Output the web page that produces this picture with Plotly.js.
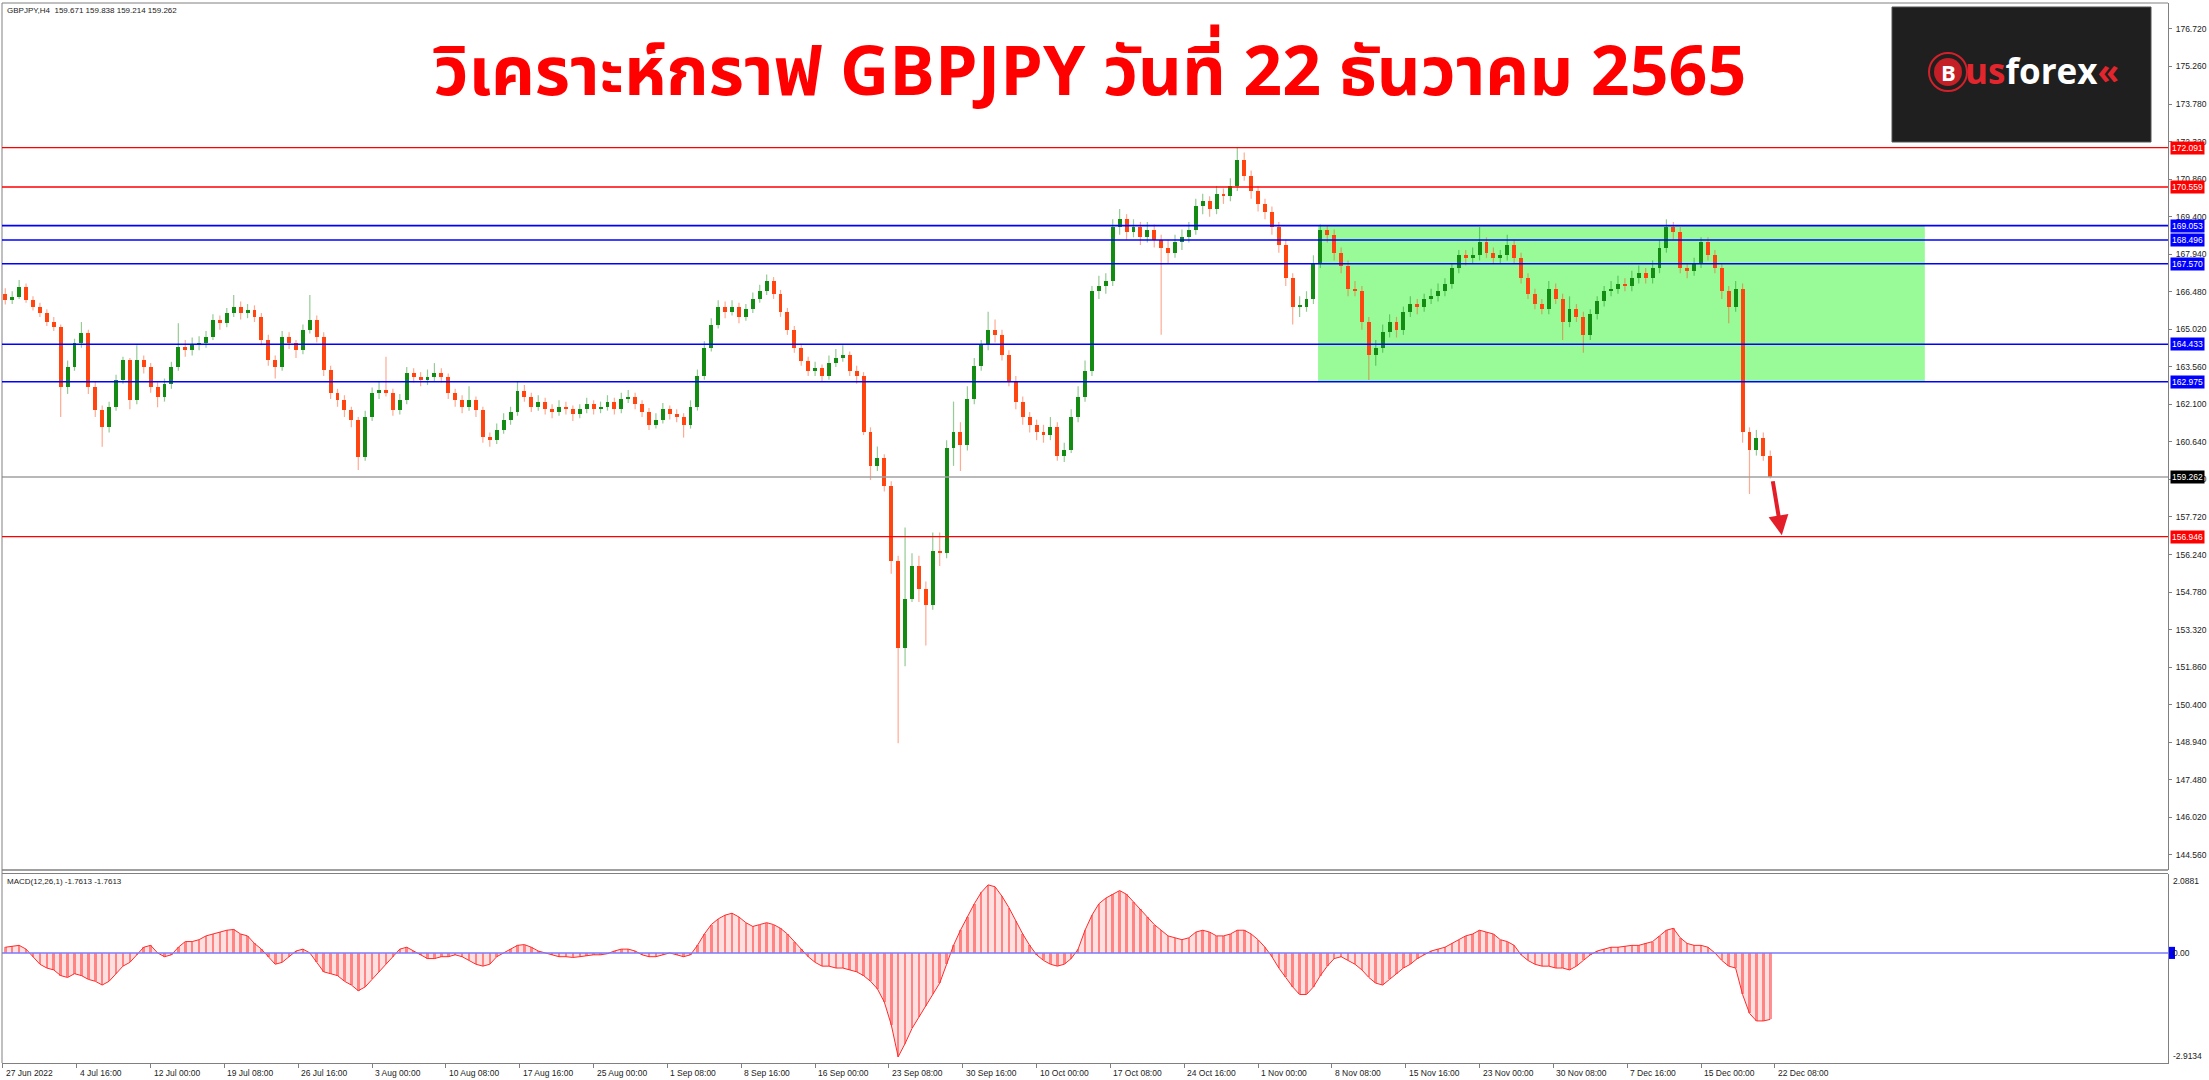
<!DOCTYPE html>
<html><head><meta charset="utf-8">
<script src="https://cdn.plot.ly/plotly-3.0.1.min.js"></script>
<style>html,body{margin:0;padding:0;background:#fff;}#chart{width:2209px;height:1080px;}</style>
</head><body><div id="chart"></div>
<script>
const symbolHeader = "GBPJPY,H4  159.671 159.838 159.214 159.262";
const macdHeader = "MACD(12,26,1) -1.7613 -1.7613";
const titleText = "วิเคราะห์กราฟ GBPJPY วันที่ 22 ธันวาคม 2565";
const dateLabels = ["27 Jun 2022","4 Jul 16:00","12 Jul 00:00","19 Jul 08:00","26 Jul 16:00","3 Aug 00:00","10 Aug 08:00","17 Aug 16:00","25 Aug 00:00","1 Sep 08:00","8 Sep 16:00","16 Sep 00:00","23 Sep 08:00","30 Sep 16:00","10 Oct 00:00","17 Oct 08:00","24 Oct 16:00","1 Nov 00:00","8 Nov 08:00","15 Nov 16:00","23 Nov 00:00","30 Nov 08:00","7 Dec 16:00","15 Dec 00:00","22 Dec 08:00"];
const priceTicks = [176.72,175.26,173.78,172.32,170.86,169.40,167.94,166.48,165.02,163.56,162.10,160.64,159.18,157.72,156.24,154.78,153.32,151.86,150.40,148.94,147.48,146.02,144.56];
const macdTicks = [2.0881, 0, -2.9134];

const open = [166.40,166.16,166.29,166.68,166.16,165.90,165.64,165.31,165.12,162.78,
163.56,164.47,164.86,162.78,161.87,161.22,162.00,163.04,163.82,162.26,
163.82,163.56,162.78,162.39,162.90,163.56,164.34,164.20,164.45,164.47,
164.73,165.38,165.25,165.64,165.90,165.64,165.77,165.51,164.60,163.82,
163.56,164.73,164.47,164.21,164.99,165.38,164.73,163.43,162.52,162.26,
161.87,161.48,160.06,161.61,162.52,162.65,162.52,161.87,162.26,163.30,
163.17,163.04,163.17,163.30,163.17,162.52,162.26,162.00,162.26,161.87,
160.84,160.71,161.10,161.50,161.80,162.60,162.40,162.00,162.20,161.90,
161.80,162.00,161.90,161.70,161.90,162.10,161.90,162.00,162.20,161.90,
162.30,162.40,162.10,161.80,161.30,161.50,161.90,161.70,161.60,161.30,
162.00,163.20,164.30,165.20,165.90,165.70,165.90,165.50,165.80,166.20,
166.50,166.90,166.40,165.70,165.00,164.30,163.80,163.40,163.50,163.20,
163.70,163.90,164.00,163.40,163.20,161.00,159.70,160.00,158.90,156.00,
152.60,154.50,155.80,154.90,154.30,156.40,156.30,160.40,161.00,160.50,
162.30,163.60,164.40,165.00,164.80,164.00,163.00,162.20,161.60,161.30,
161.00,160.90,161.20,160.10,160.30,161.60,162.40,163.40,166.50,166.70,
166.90,169.00,169.30,168.80,169.00,168.60,168.90,168.50,168.20,168.00,
168.40,168.60,168.90,169.80,170.00,169.70,170.30,170.20,170.60,171.60,
171.00,170.40,169.90,169.60,169.00,168.30,167.00,165.90,165.90,166.20,
167.60,168.90,168.70,168.00,167.50,166.60,166.50,165.30,164.00,164.30,
164.90,165.30,165.00,165.70,166.00,165.90,166.20,166.30,166.50,166.80,
167.40,167.90,167.80,167.90,168.40,168.00,167.80,167.90,168.30,167.80,
167.00,166.40,166.00,165.80,166.60,166.20,165.30,165.80,165.50,164.80,
165.60,166.10,166.50,166.60,166.80,166.70,167.00,167.20,167.00,167.40,
168.20,169.00,168.80,167.40,167.30,167.60,168.40,167.90,167.40,166.50,
165.90,166.60,161.00,160.30,160.80,160.10];
const high = [166.62,166.50,166.94,166.80,166.30,166.05,165.80,165.50,165.20,163.80,
164.65,165.30,165.00,163.00,162.05,162.20,163.25,163.95,163.90,164.40,
164.00,163.70,162.95,163.10,163.75,165.25,164.60,164.70,164.75,164.95,
165.60,165.55,165.85,166.35,166.10,166.00,165.95,165.65,164.80,164.00,
164.95,164.90,164.60,165.20,166.35,165.55,164.90,163.60,162.70,162.45,
162.00,161.60,161.85,162.75,163.00,163.95,162.70,162.50,163.55,163.50,
163.35,163.45,163.70,163.50,163.30,162.70,162.45,162.80,162.40,162.00,
161.00,161.35,161.75,162.00,163.00,162.85,162.55,162.45,162.35,162.10,
162.25,162.20,162.05,162.10,162.35,162.25,162.20,162.45,162.35,162.55,
162.65,162.55,162.25,161.95,161.75,162.15,162.05,161.90,161.75,162.25,
163.45,164.55,165.45,166.15,166.10,166.15,166.05,166.00,166.45,166.75,
167.15,167.05,166.55,165.85,165.15,164.45,163.95,163.75,163.65,164.00,
164.25,164.40,164.15,163.60,163.35,161.20,160.45,160.15,159.10,156.20,
157.30,156.30,156.20,155.20,157.10,157.10,160.70,162.20,161.40,162.80,
163.90,164.60,165.70,165.40,165.00,164.20,163.20,162.40,161.80,161.50,
161.30,161.60,161.40,160.60,161.90,162.80,163.80,166.70,167.10,167.20,
169.30,169.70,169.50,169.30,169.20,169.20,169.10,168.70,168.50,168.70,
168.90,169.20,170.10,170.30,170.20,170.60,170.50,170.90,172.10,171.90,
171.20,170.60,170.10,169.80,169.20,168.50,167.20,166.30,166.50,167.90,
169.10,169.05,168.90,168.20,167.70,166.90,166.70,165.50,164.60,165.20,
165.60,165.50,165.90,166.30,166.20,166.40,166.60,166.80,167.00,167.60,
168.10,168.10,168.20,169.00,168.60,168.20,168.10,168.70,168.50,168.00,
167.20,166.60,166.20,166.90,166.80,166.40,166.30,166.00,165.70,165.80,
166.30,166.70,166.90,167.10,167.00,167.30,167.50,167.40,167.70,168.50,
169.30,169.20,169.00,167.60,167.80,168.60,168.60,168.10,167.60,166.70,
166.90,166.80,161.20,161.10,161.00,160.30];
const low = [165.98,166.00,166.20,166.05,165.75,165.50,165.15,164.95,161.60,162.50,
163.40,164.30,162.50,161.60,160.44,161.00,161.85,162.90,161.90,162.10,
163.30,162.55,161.98,162.20,162.70,163.40,163.95,164.00,164.20,164.30,
164.60,165.00,165.10,165.50,165.40,165.45,165.30,164.40,163.60,163.10,
163.40,164.25,163.90,164.05,164.85,164.50,163.20,162.30,162.00,161.60,
161.20,159.54,159.90,161.45,162.30,162.40,161.65,161.70,162.10,162.95,
162.80,162.85,163.00,162.95,162.30,162.00,161.75,161.85,161.60,160.60,
160.44,160.55,160.95,161.30,161.65,162.20,161.80,161.85,161.70,161.55,
161.65,161.70,161.45,161.55,161.75,161.70,161.75,161.85,161.70,161.75,
162.15,161.90,161.60,161.10,161.15,161.35,161.50,161.40,160.80,161.15,
161.85,163.05,164.15,165.05,165.45,165.55,165.25,165.35,165.65,166.05,
166.35,166.20,165.50,164.80,164.10,163.60,163.20,163.20,163.00,163.05,
163.55,163.75,163.20,162.90,160.90,159.15,159.50,158.70,155.50,148.90,
151.90,154.40,154.40,152.70,154.10,155.80,156.10,159.70,159.50,160.30,
162.10,163.40,164.20,164.50,163.80,162.80,161.90,161.30,161.00,160.70,
160.60,160.70,159.90,159.85,160.20,161.40,162.20,163.20,166.20,166.40,
166.70,168.70,168.50,168.60,168.30,168.40,168.20,164.80,167.60,167.80,
168.10,168.40,168.70,169.50,169.40,169.50,169.90,170.00,170.40,170.80,
170.10,169.60,169.30,168.70,168.00,166.70,165.20,165.50,165.70,166.00,
167.40,168.40,167.70,167.20,166.30,166.30,165.00,163.04,163.60,164.10,
164.70,164.70,164.80,165.50,165.60,165.70,166.00,166.10,166.30,166.60,
167.20,167.50,167.60,167.70,167.80,167.60,167.60,167.70,167.60,166.80,
166.20,165.80,165.60,165.60,166.00,164.60,165.10,165.30,164.10,164.60,
165.40,165.90,166.30,166.40,166.50,166.50,166.80,166.80,166.80,167.20,
168.00,168.50,167.20,167.00,167.10,167.40,167.70,167.20,166.20,165.25,
165.70,160.60,158.60,160.10,159.90,159.21];
const close = [166.16,166.29,166.68,166.16,165.90,165.64,165.31,165.12,162.78,163.56,
164.47,164.86,162.78,161.87,161.22,162.00,163.04,163.82,162.26,163.82,
163.56,162.78,162.39,162.90,163.56,164.34,164.20,164.45,164.47,164.73,
165.38,165.25,165.64,165.90,165.64,165.77,165.51,164.60,163.82,163.56,
164.73,164.47,164.21,164.99,165.38,164.73,163.43,162.52,162.26,161.87,
161.48,160.06,161.61,162.52,162.65,162.52,161.87,162.26,163.30,163.17,
163.04,163.17,163.30,163.17,162.52,162.26,162.00,162.26,161.87,160.84,
160.71,161.10,161.50,161.80,162.60,162.40,162.00,162.20,161.90,161.80,
162.00,161.90,161.70,161.90,162.10,161.90,162.00,162.20,161.90,162.30,
162.40,162.10,161.80,161.30,161.50,161.90,161.70,161.60,161.30,162.00,
163.20,164.30,165.20,165.90,165.70,165.90,165.50,165.80,166.20,166.50,
166.90,166.40,165.70,165.00,164.30,163.80,163.40,163.50,163.20,163.70,
163.90,164.00,163.40,163.20,161.00,159.70,160.00,158.90,156.00,152.60,
154.50,155.80,154.90,154.30,156.40,156.30,160.40,161.00,160.50,162.30,
163.60,164.40,165.00,164.80,164.00,163.00,162.20,161.60,161.30,161.00,
160.90,161.20,160.10,160.30,161.60,162.40,163.40,166.50,166.70,166.90,
169.00,169.30,168.80,169.00,168.60,168.90,168.50,168.20,168.00,168.40,
168.60,168.90,169.80,170.00,169.70,170.30,170.20,170.60,171.60,171.00,
170.40,169.90,169.60,169.00,168.30,167.00,165.90,165.90,166.20,167.60,
168.90,168.70,168.00,167.50,166.60,166.50,165.30,164.00,164.30,164.90,
165.30,165.00,165.70,166.00,165.90,166.20,166.30,166.50,166.80,167.40,
167.90,167.80,167.90,168.40,168.00,167.80,167.90,168.30,167.80,167.00,
166.40,166.00,165.80,166.60,166.20,165.30,165.80,165.50,164.80,165.60,
166.10,166.50,166.60,166.80,166.70,167.00,167.20,167.00,167.40,168.20,
169.00,168.80,167.40,167.30,167.60,168.40,167.90,167.40,166.50,165.90,
166.60,161.00,160.30,160.80,160.10,159.26];
const macd = [0.15,0.18,0.2,0.1,-0.1,-0.3,-0.4,-0.45,-0.6,-0.65,
-0.55,-0.6,-0.7,-0.75,-0.85,-0.75,-0.55,-0.35,-0.25,-0.05,
0.15,0.2,0.0,-0.1,-0.05,0.15,0.3,0.3,0.35,0.45,
0.5,0.55,0.6,0.62,0.5,0.45,0.25,0.1,-0.1,-0.3,
-0.25,-0.1,0.05,0.1,0.0,-0.25,-0.5,-0.55,-0.6,-0.75,
-0.85,-1.0,-0.9,-0.7,-0.5,-0.3,-0.1,0.1,0.15,0.05,
-0.05,-0.15,-0.15,-0.1,-0.1,-0.05,-0.1,-0.2,-0.3,-0.35,
-0.3,-0.1,0.0,0.1,0.2,0.22,0.15,0.05,0.0,-0.05,
-0.1,-0.1,-0.12,-0.1,-0.08,-0.05,-0.05,-0.02,0.05,0.1,
0.1,0.05,-0.05,-0.1,-0.1,-0.05,0.0,-0.05,-0.1,-0.05,
0.2,0.5,0.75,0.9,1.0,1.05,0.95,0.8,0.7,0.75,
0.8,0.75,0.65,0.5,0.3,0.1,-0.1,-0.25,-0.35,-0.35,
-0.4,-0.4,-0.45,-0.5,-0.6,-0.75,-0.95,-1.3,-1.9,-2.75,
-2.4,-2.0,-1.7,-1.4,-1.1,-0.8,-0.3,0.2,0.6,0.95,
1.3,1.6,1.8,1.75,1.5,1.2,0.85,0.5,0.2,-0.05,
-0.2,-0.3,-0.35,-0.3,-0.15,0.1,0.6,1.0,1.3,1.45,
1.55,1.65,1.55,1.35,1.15,0.95,0.75,0.6,0.45,0.4,
0.35,0.4,0.55,0.6,0.55,0.45,0.45,0.5,0.6,0.6,
0.5,0.35,0.15,-0.1,-0.4,-0.65,-0.9,-1.1,-1.1,-0.9,
-0.6,-0.35,-0.15,-0.1,-0.2,-0.3,-0.45,-0.65,-0.8,-0.85,
-0.7,-0.55,-0.4,-0.3,-0.15,-0.05,0.05,0.1,0.15,0.25,
0.35,0.45,0.5,0.6,0.55,0.5,0.35,0.3,0.2,-0.05,
-0.2,-0.3,-0.35,-0.35,-0.4,-0.4,-0.45,-0.35,-0.2,-0.05,
0.05,0.1,0.15,0.15,0.18,0.2,0.2,0.25,0.3,0.45,
0.6,0.65,0.4,0.25,0.2,0.2,0.15,0.0,-0.2,-0.35,
-0.4,-1.1,-1.6,-1.8,-1.8,-1.76];

const redLevels = [172.091, 170.559, 156.946];
const blueLevels = [169.053, 168.496, 167.570, 164.433, 162.975];
const lastPrice = 159.262;
const zoneTop = 169.053, zoneBottom = 162.975;
const zoneStartBar = 570, zoneEndBar = 833;
const targetLevel = 156.946;

// ---------- drawing ----------
const BARS_PER_CANDLE = 3;
const xs = close.map((_, k) => BARS_PER_CANDLE * k + 1);
const labelBars = dateLabels.map((_, i) => i * 32);
const UP = '#148C14', DOWN = '#FF4510';
const UPW = 'rgba(20,140,20,0.45)', DOWNW = 'rgba(255,69,16,0.45)';

function wicks(sel) {
  const x = [], y = [];
  xs.forEach((xv, k) => { if (sel(k)) { x.push(xv, xv, null); y.push(low[k], high[k], null); } });
  return {x, y};
}
const isUp = k => close[k] >= open[k];
const wu = wicks(isUp), wd = wicks(k => !isUp(k));

const traces = [
  {type:'scatter', mode:'lines', x:wu.x, y:wu.y, line:{color:UPW, width:1.2}, hoverinfo:'skip', xaxis:'x', yaxis:'y'},
  {type:'scatter', mode:'lines', x:wd.x, y:wd.y, line:{color:DOWNW, width:1.2}, hoverinfo:'skip', xaxis:'x', yaxis:'y'},
  {type:'bar', x:xs, base:open.map((o,k)=>Math.min(o,close[k])),
   y:open.map((o,k)=>Math.max(Math.abs(close[k]-o),0.05)), width:1.7,
   marker:{color:open.map((o,k)=>isUp(k)?UP:DOWN), line:{width:0}}, xaxis:'x', yaxis:'y', hoverinfo:'skip'},
  {type:'scatter', mode:'lines', x:xs, y:macd, fill:'tozeroy', fillcolor:'rgba(255,60,60,0.16)',
   line:{color:'#FF2A2A', width:1}, xaxis:'x', yaxis:'y2', hoverinfo:'skip'},
  {type:'bar', x:xs, y:macd, width:1.1, marker:{color:'rgba(255,40,40,0.5)', line:{width:0}}, xaxis:'x', yaxis:'y2', hoverinfo:'skip'}
];

const px = x => (x - 2) / 2166;
const py = y => (1063 - y) / 1060;
const FRAME = '#808080';

const shapes = [
  {type:'rect', layer:'below', xref:'x', yref:'y', x0:zoneStartBar, x1:zoneEndBar, y0:zoneBottom, y1:zoneTop,
   fillcolor:'#98FB98', line:{width:0}},
  {type:'line', xref:'paper', yref:'y', x0:0, x1:1, y0:lastPrice, y1:lastPrice, line:{color:'#A0A0A0', width:1.5}},
  {type:'line', xref:'paper', yref:'y2', x0:0, x1:1, y0:0, y1:0, line:{color:'#7A7AFF', width:1.5}},
  {type:'line', xref:'paper', yref:'paper', x0:0, x1:0, y0:0, y1:1, line:{color:FRAME, width:1}},
  {type:'line', xref:'paper', yref:'paper', x0:0, x1:1, y0:1, y1:1, line:{color:FRAME, width:1}},
  {type:'line', xref:'paper', yref:'paper', x0:0, x1:1, y0:py(870), y1:py(870), line:{color:FRAME, width:1.5}},
  {type:'line', xref:'paper', yref:'paper', x0:0, x1:1, y0:py(873.5), y1:py(873.5), line:{color:FRAME, width:1}},
  {type:'rect', xref:'paper', yref:'paper', x0:px(1892), x1:px(2151), y0:py(142), y1:py(7), fillcolor:'#1F1F1F', line:{color:'#555', width:1}},
  {type:'circle', xref:'paper', yref:'paper', x0:px(1929), x1:px(1967), y0:py(91), y1:py(53), fillcolor:'rgba(0,0,0,0)', line:{color:'#D3202A', width:2}},
  {type:'circle', xref:'paper', yref:'paper', x0:px(1934), x1:px(1962), y0:py(86), y1:py(58), fillcolor:'#C41E26', line:{width:0}},
  {type:'rect', xref:'paper', yref:'y2', x0:px(2169), x1:px(2175), y0:-0.16, y1:0.16, fillcolor:'#0000FF', line:{width:0}}
];
redLevels.forEach(v => shapes.push({type:'line', xref:'paper', yref:'y', x0:0, x1:1, y0:v, y1:v, line:{color:'#FF0000', width:1.3}}));
blueLevels.forEach(v => shapes.push({type:'line', xref:'paper', yref:'y', x0:0, x1:1, y0:v, y1:v, line:{color:'#0000FF', width:1.6}}));

const smallFont = {family:'Liberation Sans, Arial, sans-serif', size:8.5, color:'#222'};
const headFont = {family:'Liberation Sans, Arial, sans-serif', size:8, color:'#222'};
const annotations = [
  {xref:'paper', yref:'paper', x:0, y:1, xanchor:'left', yanchor:'top', xshift:3, yshift:-1, text:symbolHeader, showarrow:false, font:headFont},
  {xref:'paper', yref:'paper', x:0, y:py(881), xanchor:'left', yanchor:'middle', xshift:3, text:macdHeader, showarrow:false, font:headFont},
  {xref:'paper', yref:'paper', x:0.502, y:py(74), xanchor:'center', yanchor:'middle', text:'<b>'+titleText+'</b>', showarrow:false,
   font:{family:'Noto Sans Thai, Noto Sans, Loma, Garuda, sans-serif', size:68, color:'#FF0000'}},
  {xref:'paper', yref:'paper', x:px(1948), y:py(72), xanchor:'center', yanchor:'middle', text:'<b>B</b>', showarrow:false,
   font:{family:'Open Sans, sans-serif', size:22, color:'#FFFFFF'}},
  {xref:'paper', yref:'paper', x:px(1963), y:py(71), xanchor:'left', yanchor:'middle', showarrow:false,
   text:'<b><span style="color:#E3262E">us</span>forex<span style="color:#E3262E">«</span></b>',
   font:{family:'Open Sans, sans-serif', size:35, color:'#FFFFFF'}},
  {xref:'x', yref:'y', x:xs[xs.length-1] + 5, y:targetLevel + 0.05, axref:'x', ayref:'y', ax:xs[xs.length-1] + 1, ay:close[close.length-1] - 0.1,
   showarrow:true, arrowhead:2, arrowsize:1, arrowwidth:4, arrowcolor:'#E31E28', text:''}
];
dateLabels.forEach((t, i) => annotations.push({xref:'x', yref:'paper', x:labelBars[i], y:0, xanchor:'left', yanchor:'top',
  xshift:1, yshift:-3, text:t, showarrow:false, font:smallFont}));
function levelTag(v, bg) {
  annotations.push({xref:'paper', yref:'y', x:1, y:v, xanchor:'left', yanchor:'middle', xshift:2, text:v.toFixed(3),
    showarrow:false, bgcolor:bg, borderpad:1, font:{family:'Liberation Sans, Arial, sans-serif', size:8.5, color:'#FFFFFF'}});
}
redLevels.forEach(v => levelTag(v, '#FF0000'));
blueLevels.forEach(v => levelTag(v, '#0000FF'));
levelTag(lastPrice, '#000000');
macdTicks.forEach(v => annotations.push({xref:'paper', yref:'y2', x:1, y:v, xanchor:'left',
  yanchor: v > 0 ? 'top' : (v < 0 ? 'bottom' : 'middle'), xshift:3, text: v === 0 ? '0.00' : v.toFixed(4),
  showarrow:false, font:smallFont}));

const layout = {
  width:2209, height:1080,
  margin:{l:2, r:41, t:3, b:17, pad:0},
  paper_bgcolor:'#FFFFFF', plot_bgcolor:'#FFFFFF',
  showlegend:false, barmode:'overlay', bargap:0,
  font:smallFont,
  xaxis:{domain:[0,1], range:[-0.43, 938.4], anchor:'y2', showgrid:false, zeroline:false, showline:true,
    linecolor:FRAME, linewidth:1, ticks:'outside', ticklen:4, tickcolor:FRAME, tickvals:labelBars,
    showticklabels:false, fixedrange:true},
  yaxis:{domain:[py(870), 1], range:[143.962, 177.723], side:'right', anchor:'x', showgrid:false, zeroline:false,
    showline:true, linecolor:FRAME, linewidth:1, ticks:'outside', ticklen:3, tickcolor:FRAME,
    tickvals:priceTicks, ticktext:priceTicks.map(v => v.toFixed(3)), tickfont:smallFont, ticklabelstandoff:2},
  yaxis2:{domain:[0, py(874)], range:[-2.9134, 2.0881], side:'right', anchor:'x', showgrid:false, zeroline:false,
    showline:true, linecolor:FRAME, linewidth:1, showticklabels:false, ticks:''},
  shapes:shapes, annotations:annotations
};
Plotly.newPlot('chart', traces, layout, {staticPlot:true, displayModeBar:false});
</script></body></html>
